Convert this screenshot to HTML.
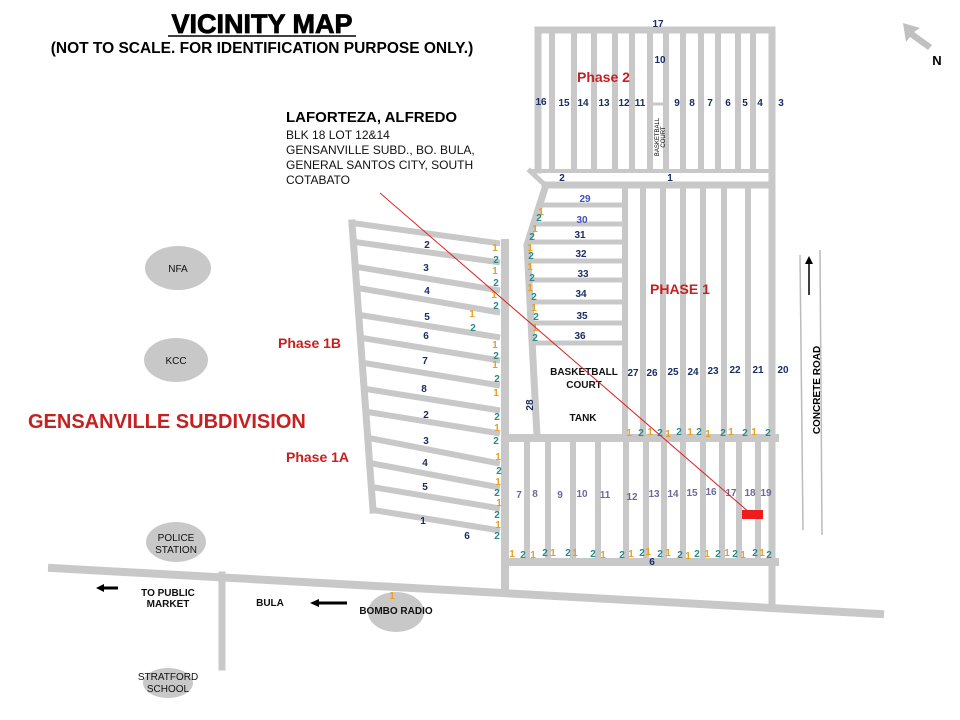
<!DOCTYPE html>
<html><head><meta charset="utf-8"><style>
html,body{margin:0;padding:0;background:#fff;}
svg{display:block;font-family:"Liberation Sans",Arial,sans-serif;}
.n{font-size:10px;font-weight:bold;fill:#1a2e66;text-anchor:middle;}
.p{font-size:10px;font-weight:bold;fill:#6a6a9a;text-anchor:middle;}
.o{font-size:10px;font-weight:bold;fill:#e8a020;text-anchor:middle;}
.t{font-size:10px;font-weight:bold;fill:#2a8a8a;text-anchor:middle;}
.r{font-weight:bold;fill:#c62020;}
.b{font-size:10px;font-weight:bold;fill:#111;text-anchor:middle;}
</style></head><body>
<svg width="960" height="720" viewBox="0 0 960 720" xmlns="http://www.w3.org/2000/svg">
<g stroke="#c8c8c8" fill="none" stroke-width="7" stroke-linecap="square">
<path d="M538 30 H772 V605"/>
<path d="M538 30 V170"/>
<g stroke-width="6">
<path d="M552 32V170M574 32V170M594 32V170M615 32V170M632 32V170M650 32V170M666 32V170M683 32V170M701 32V170M718 32V170M738 32V170M753 32V170"/>
</g>
<path d="M650 104 H666" stroke-width="3"/>
<path d="M530 171 H772" stroke-width="4"/>
<path d="M545 185 H772" stroke-width="7"/>
<path d="M530 171 L545 185" stroke-width="5"/>
<path d="M545 188 L527 245 L537 436" stroke-width="7"/>
<g stroke-width="5">
<path d="M540 205H625M535 224H625M532 242H625M530 261H625M531 280H625M532 302H625M533 323H625M534 343H625"/>
</g>
<path d="M625 188V436" stroke-width="6"/>
<g stroke-width="6">
<path d="M643 188V436M663 188V436M683 188V436M703 188V436M724 188V436M748 188V436"/>
</g>
<path d="M505 438 H775" stroke-width="8"/>
<g stroke-width="6">
<path d="M527 442V558M548 442V558M573 442V558M598 442V558M626 442V558M646 442V558M664 442V558M683 442V558M703 442V558M722 442V558M739 442V558M758 442V558"/>
</g>
<path d="M505 562 H775" stroke-width="8"/>
<path d="M505 243 V592" stroke-width="8"/>
<path d="M352 223 L373 510"/>
<path d="M352 223 L497 243" stroke-width="6"/>
<g stroke-width="6">
<path d="M355 242L497 262M357 267L497 290M358 288L497 312M360 315L497 337M362 338L497 360M364 363L497 385M366 389L497 410M368 412L497 433M369 438L497 463M370 463L497 487M372 487L497 508M373 510L497 530"/>
</g>
<path d="M52 568 L880 614" stroke-width="8"/>
<path d="M222 575 V667" stroke-width="7"/>
</g>
<g stroke="#bbb" stroke-width="1.5">
<line x1="800" y1="255" x2="803" y2="530"/>
<line x1="820" y1="250" x2="822" y2="535"/>
</g>
<line x1="809" y1="295" x2="809" y2="262" stroke="#000" stroke-width="1.5"/>
<polygon points="805,264 813,264 809,256" fill="#000"/>
<text x="820" y="390" transform="rotate(-90 820 390)" font-size="10" font-weight="bold" text-anchor="middle">CONCRETE ROAD</text>
<g fill="#c8c8c8">
<ellipse cx="178" cy="268" rx="33" ry="22"/>
<ellipse cx="176" cy="360" rx="32" ry="22"/>
<ellipse cx="176" cy="542" rx="30" ry="20"/>
<ellipse cx="396" cy="612" rx="28" ry="20"/>
<ellipse cx="168" cy="683" rx="25" ry="15"/>
</g>
<g font-size="10" text-anchor="middle" fill="#111">
<text x="178" y="272">NFA</text>
<text x="176" y="364">KCC</text>
<text x="176" y="541">POLICE</text>
<text x="176" y="553">STATION</text>
<text x="168" y="680">STRATFORD</text>
<text x="168" y="692">SCHOOL</text>
</g>
<text class="b" x="396" y="614">BOMBO RADIO</text>
<text class="o" x="392" y="599">1</text>
<text class="b" x="168" y="596">TO PUBLIC</text>
<text class="b" x="168" y="607">MARKET</text>
<text class="b" x="270" y="606">BULA</text>
<line x1="103" y1="588" x2="118" y2="588" stroke="#000" stroke-width="3"/>
<polygon points="96,588 104,584 104,592" fill="#000"/>
<line x1="318" y1="603" x2="347" y2="603" stroke="#000" stroke-width="3"/>
<polygon points="310,603 319,599 319,607" fill="#000"/>
<text x="262" y="33" font-size="27" font-weight="900" text-anchor="middle" stroke="#000" stroke-width="0.8">VICINITY MAP</text>
<line x1="168" y1="36" x2="356" y2="36" stroke="#000" stroke-width="1.5"/>
<text x="262" y="53" font-size="15.5" font-weight="bold" text-anchor="middle">(NOT TO SCALE. FOR IDENTIFICATION PURPOSE ONLY.)</text>
<text x="286" y="122" font-size="15" font-weight="bold">LAFORTEZA, ALFREDO</text>
<g font-size="12" fill="#111">
<text x="286" y="139">BLK 18 LOT 12&amp;14</text>
<text x="286" y="154">GENSANVILLE SUBD., BO. BULA,</text>
<text x="286" y="169">GENERAL SANTOS CITY, SOUTH</text>
<text x="286" y="184">COTABATO</text>
</g>
<polygon points="903,23 920,28 914,32 932,45 928,50 910,37 906,42" fill="#c0c0c0"/>
<text x="937" y="65" font-size="13" font-weight="bold" text-anchor="middle">N</text>
<text class="r" x="577" y="82" font-size="14">Phase 2</text>
<text class="r" x="650" y="294" font-size="14">PHASE 1</text>
<text class="r" x="278" y="348" font-size="14">Phase 1B</text>
<text class="r" x="28" y="428" font-size="20">GENSANVILLE SUBDIVISION</text>
<text class="r" x="286" y="462" font-size="14">Phase 1A</text>
<text class="n" x="658" y="27">17</text>
<text class="n" x="660" y="63">10</text>
<text class="n" x="541" y="105">16</text><text class="n" x="564" y="106">15</text><text class="n" x="583" y="106">14</text><text class="n" x="604" y="106">13</text><text class="n" x="624" y="106">12</text><text class="n" x="640" y="106">11</text><text class="n" x="677" y="106">9</text><text class="n" x="692" y="106">8</text><text class="n" x="710" y="106">7</text><text class="n" x="728" y="106">6</text><text class="n" x="745" y="106">5</text><text class="n" x="760" y="106">4</text><text class="n" x="781" y="106">3</text>
<text x="659" y="137" font-size="6" transform="rotate(-90 659 137)" text-anchor="middle">BASKETBALL</text>
<text x="665" y="137" font-size="6" transform="rotate(-90 665 137)" text-anchor="middle">COURT</text>
<text class="n" x="562" y="181">2</text><text class="n" x="670" y="181">1</text>
<text class="n" x="585" y="202" style="fill:#4050c0">29</text>
<text class="n" x="582" y="223" style="fill:#4050c0">30</text>
<text class="n" x="580" y="238">31</text><text class="n" x="581" y="257">32</text><text class="n" x="583" y="277">33</text><text class="n" x="581" y="297">34</text><text class="n" x="582" y="319">35</text><text class="n" x="580" y="339">36</text>
<text class="n" x="633" y="376">27</text><text class="n" x="652" y="376">26</text><text class="n" x="673" y="375">25</text><text class="n" x="693" y="375">24</text><text class="n" x="713" y="374">23</text><text class="n" x="735" y="373">22</text><text class="n" x="758" y="373">21</text><text class="n" x="783" y="373">20</text>
<text class="b" x="584" y="375" font-size="11">BASKETBALL</text>
<text class="b" x="584" y="388" font-size="11">COURT</text>
<text class="b" x="583" y="421" font-size="11">TANK</text>
<text class="n" x="533" y="405" transform="rotate(-90 533 405)">28</text>
<text class="p" x="519" y="498">7</text><text class="p" x="535" y="497">8</text><text class="p" x="560" y="498">9</text><text class="p" x="582" y="497">10</text><text class="p" x="605" y="498">11</text><text class="p" x="632" y="500">12</text><text class="p" x="654" y="497">13</text><text class="p" x="673" y="497">14</text><text class="p" x="692" y="496">15</text><text class="p" x="711" y="495">16</text><text class="p" x="731" y="496">17</text><text class="p" x="750" y="496">18</text><text class="p" x="766" y="496">19</text>
<text class="n" x="652" y="565">6</text>
<text class="o" x="629" y="436">1</text><text class="t" x="641" y="436">2</text><text class="o" x="650" y="435">1</text><text class="t" x="660" y="436">2</text><text class="o" x="668" y="437">1</text><text class="t" x="679" y="435">2</text><text class="o" x="690" y="435">1</text><text class="t" x="699" y="435">2</text><text class="o" x="708" y="437">1</text><text class="t" x="723" y="436">2</text><text class="o" x="731" y="435">1</text><text class="t" x="745" y="436">2</text><text class="o" x="754" y="435">1</text><text class="t" x="768" y="436">2</text>
<text class="o" x="512" y="557">1</text><text class="t" x="523" y="558">2</text><text class="o" x="533" y="558">1</text><text class="t" x="545" y="556">2</text><text class="o" x="553" y="556">1</text><text class="t" x="568" y="556">2</text><text class="o" x="575" y="556">1</text><text class="t" x="593" y="557">2</text><text class="o" x="603" y="558">1</text><text class="t" x="622" y="558">2</text><text class="o" x="631" y="557">1</text><text class="t" x="642" y="556">2</text><text class="o" x="648" y="555">1</text><text class="t" x="660" y="557">2</text><text class="o" x="668" y="556">1</text><text class="t" x="680" y="558">2</text><text class="o" x="688" y="559">1</text><text class="t" x="697" y="557">2</text><text class="o" x="707" y="557">1</text><text class="t" x="718" y="557">2</text><text class="o" x="727" y="556">1</text><text class="t" x="735" y="557">2</text><text class="o" x="743" y="558">1</text><text class="t" x="755" y="556">2</text><text class="o" x="762" y="556">1</text><text class="t" x="769" y="558">2</text>
<text class="o" x="541" y="215">1</text><text class="t" x="539" y="221">2</text><text class="o" x="535" y="232">1</text><text class="t" x="532" y="240">2</text><text class="o" x="530" y="251">1</text><text class="t" x="531" y="259">2</text><text class="o" x="530" y="270">1</text><text class="t" x="532" y="281">2</text><text class="o" x="530" y="291">1</text><text class="t" x="534" y="300">2</text><text class="o" x="534" y="311">1</text><text class="t" x="536" y="320">2</text><text class="o" x="535" y="331">1</text><text class="t" x="535" y="341">2</text>
<text class="o" x="495" y="251">1</text><text class="t" x="496" y="263">2</text><text class="o" x="495" y="274">1</text><text class="t" x="496" y="286">2</text><text class="o" x="494" y="298">1</text><text class="t" x="496" y="309">2</text><text class="o" x="472" y="317">1</text><text class="t" x="473" y="331">2</text><text class="o" x="495" y="348">1</text><text class="t" x="496" y="359">2</text><text class="o" x="495" y="368">1</text><text class="t" x="497" y="382">2</text><text class="o" x="496" y="396">1</text><text class="t" x="497" y="420">2</text><text class="o" x="497" y="431">1</text><text class="t" x="496" y="444">2</text><text class="o" x="498" y="460">1</text><text class="t" x="499" y="474">2</text><text class="o" x="498" y="485">1</text><text class="t" x="497" y="496">2</text><text class="o" x="499" y="506">1</text><text class="t" x="497" y="518">2</text><text class="o" x="498" y="528">1</text><text class="t" x="497" y="539">2</text>
<text class="n" x="427" y="248">2</text><text class="n" x="426" y="271">3</text><text class="n" x="427" y="294">4</text><text class="n" x="427" y="320">5</text><text class="n" x="426" y="339">6</text><text class="n" x="425" y="364">7</text><text class="n" x="424" y="392">8</text><text class="n" x="426" y="418">2</text><text class="n" x="426" y="444">3</text><text class="n" x="425" y="466">4</text><text class="n" x="425" y="490">5</text><text class="n" x="423" y="524">1</text><text class="n" x="467" y="539">6</text>
<line x1="380" y1="193" x2="750" y2="513" stroke="#e02020" stroke-width="1"/>
<rect x="742" y="510" width="21" height="9" fill="#ee1c1c"/>
</svg>
</body></html>
